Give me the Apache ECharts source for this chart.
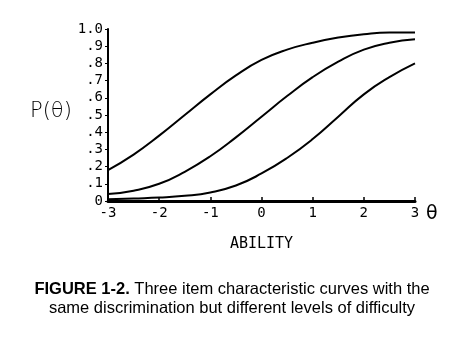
<!DOCTYPE html>
<html><head><meta charset="utf-8">
<script src="https://cdn.jsdelivr.net/npm/echarts@6/dist/echarts.min.js"></script>
<style>html,body{margin:0;padding:0;background:#fff}#c{width:461px;height:338px}</style>
</head><body><div id="c"></div>
<script>
const theta = [-3, -2.5, -2, -1.5, -1, -0.5, 0, 0.5, 1, 1.5, 2, 2.5, 3];
const easyItem = [0.18, 0.27, 0.38, 0.50, 0.62, 0.73, 0.82, 0.88, 0.92, 0.95, 0.97, 0.98, 0.98];
const mediumItem = [0.04, 0.06, 0.10, 0.17, 0.26, 0.37, 0.49, 0.61, 0.72, 0.81, 0.88, 0.92, 0.94];
const hardItem = [0.01, 0.015, 0.02, 0.03, 0.05, 0.09, 0.16, 0.25, 0.36, 0.49, 0.62, 0.72, 0.80];
const xTicks = ['-3', '-2', '-1', '0', '1', '2', '3'];
const yTicks = ['0', '.1', '.2', '.3', '.4', '.5', '.6', '.7', '.8', '.9', '1.0'];

const pairs = arr => theta.map((t, i) => [t, arr[i]]);
const mono = 'DejaVu Sans Mono';
const lineSeries = arr => ({
  type: 'line', data: pairs(arr), smooth: true, symbol: 'none',
  lineStyle: { color: '#000', width: 2 }, z: 3
});

const chart = echarts.init(document.getElementById('c'), null, { renderer: 'canvas' });
chart.setOption({
  backgroundColor: '#fff',
  animation: false,
  grid: { left: 108, right: 46, top: 29, bottom: 137 },
  xAxis: {
    type: 'value', min: -3, max: 3, interval: 1,
    axisLine: { show: true, onZero: false, lineStyle: { color: '#000', width: 3 } },
    axisTick: { show: true, inside: true, length: 4, lineStyle: { color: '#000', width: 1.5 } },
    axisLabel: { color: '#000', fontFamily: mono, fontSize: 14, margin: 5,
      formatter: v => xTicks[Math.round(v) + 3] },
    splitLine: { show: false },
    name: 'ABILITY', nameLocation: 'middle', nameGap: 36,
    nameTextStyle: { color: '#000', fontFamily: mono, fontSize: 15 }
  },
  yAxis: {
    type: 'value', min: 0, max: 1, interval: 0.1,
    axisLine: { show: true, onZero: false, lineStyle: { color: '#000', width: 2 } },
    axisTick: { show: true, length: 3, lineStyle: { color: '#000', width: 1 } },
    axisLabel: { color: '#000', fontFamily: mono, fontSize: 14, margin: 5,
      formatter: v => yTicks[Math.round(v * 10)] },
    splitLine: { show: false }
  },
  graphic: [
    { type: 'text', left: 30, top: 101, style: { text: 'P(θ)', fontFamily: 'DejaVu Sans', fontSize: 21, fontWeight: 'lighter', fill: '#000' } },
    { type: 'text', left: 426, top: 205, style: { text: 'θ', fontFamily: 'DejaVu Sans', fontSize: 19, fill: '#000' } },
    { type: 'text', x: 232, y: 280, style: {
        text: '{b|FIGURE 1-2.} Three item characteristic curves with the\nsame discrimination but different levels of difficulty',
        align: 'center', verticalAlign: 'top',
        fontFamily: 'Liberation Sans', fontSize: 16.5, fill: '#000', lineHeight: 19,
        rich: { b: { fontFamily: 'Liberation Sans', fontSize: 16.5, fontWeight: 'bold', fill: '#000', lineHeight: 19 } }
    } }
  ],
  series: [lineSeries(easyItem), lineSeries(mediumItem), lineSeries(hardItem)]
});
</script></body></html>
